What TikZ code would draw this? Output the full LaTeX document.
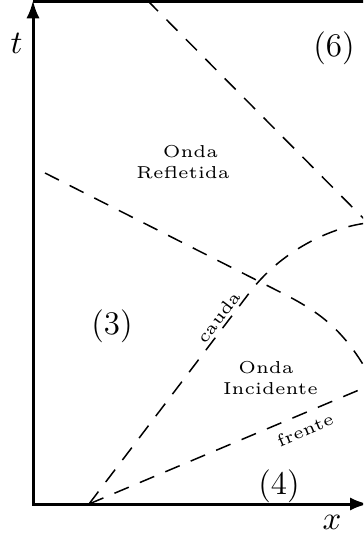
\documentclass[tikz,border=0pt]{standalone}
\usepackage{graphicx}
\usetikzlibrary{arrows.meta}
\newcommand{\smalltxt}[1]{\scalebox{1.15}{\tiny #1}}
\begin{document}
\begin{tikzpicture}[x=0.33333pt,y=-0.33333pt,
  axis/.style={line width=1pt},
  wave/.style={line width=0.5pt, dash pattern=on 5.2pt off 4pt},
  lbl/.style={inner sep=0pt},
  reg/.style={inner sep=0pt, font=\fontsize{11}{13}\selectfont}]
\useasboundingbox (0,0) rectangle (363,533);
\clip (0,0) rectangle (363,533);
% axes
\coordinate (O) at (33,504);
\coordinate (T) at (33,0.3);
\coordinate (X) at (368,504);
\coordinate (TL) at (33,1);
\coordinate (TR) at (372,1);
\draw[axis, {Latex[length=6pt,width=4.4pt]}-{Latex[length=6pt,width=4.4pt]}] (T) -- (O) -- (X);
\draw[axis] (TL) -- (TR);
% waves
\coordinate (S) at (89,504);
\coordinate (A0) at (147,0);
\coordinate (A1) at (372,227);
\draw[wave] (A0) -- (A1);
\coordinate (R0) at (45,173);
\coordinate (R1) at (280,292);
\coordinate (R2) at (320,312);
\coordinate (R3) at (345,330);
\coordinate (R4) at (372,380);
\draw[wave] (R0) -- (R1) .. controls (R2) and (R3) .. (R4);
\coordinate (C1) at (250,292);
\coordinate (C2) at (280,252.5);
\coordinate (C3) at (330,226);
\coordinate (C4) at (372,222.5);
\draw[wave] (S) -- (C1) .. controls (C2) and (C3) .. (C4);
\coordinate (F1) at (372,384.5);
\draw[wave] (S) -- (F1);
% labels
\node[reg] (tl) at (16.5,43) {$t$};
\node[reg] (xl) at (332,522) {$x$};
\node[reg] (r6) at (334,48) {(6)};
\node[reg] (r3) at (112,326) {(3)};
\node[reg] (r4) at (279,486.5) {(4)};
\node[lbl, anchor=base] (or1) at (190.5,157) {\smalltxt{Onda}};
\node[lbl, anchor=base] (or2) at (183,178) {\smalltxt{Refletida}};
\node[lbl, anchor=base] (oi1) at (266,373) {\smalltxt{Onda}};
\node[lbl, anchor=base] (oi2) at (270.5,394) {\smalltxt{Incidente}};
\node[lbl, rotate=52.8] (cauda) at (218.5,317) {\smalltxt{cauda}};
\node[lbl, rotate=23] (frente) at (305,430) {\smalltxt{frente}};
\end{tikzpicture}
\end{document}
